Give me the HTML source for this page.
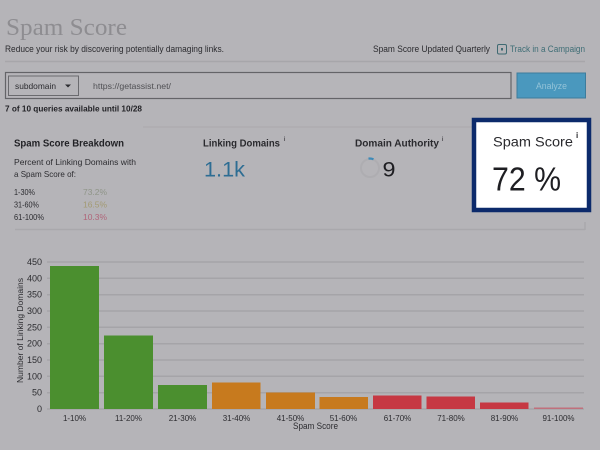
<!DOCTYPE html>
<html><head><meta charset="utf-8"><style>
html,body{margin:0;padding:0;background:#b5b4b8;}
svg{display:block;font-family:"Liberation Sans",sans-serif;}
</style></head><body>
<svg width="600" height="450" viewBox="0 0 600 450" xmlns="http://www.w3.org/2000/svg">
<rect x="0" y="0" width="600" height="450" fill="#b5b4b8"/>
<!-- header -->
<text x="6" y="35" style="font-family:'Liberation Serif',serif" font-size="24" fill="#8e8d91" textLength="121" lengthAdjust="spacingAndGlyphs">Spam Score</text>
<text x="5" y="52" font-size="9" fill="#2c2c30" textLength="219" lengthAdjust="spacingAndGlyphs">Reduce your risk by discovering potentially damaging links.</text>
<text x="373" y="52" font-size="9" fill="#2c2c30" textLength="117" lengthAdjust="spacingAndGlyphs">Spam Score Updated Quarterly</text>
<rect x="497.5" y="44.5" width="9" height="9.5" rx="1.5" fill="none" stroke="#3f6a72" stroke-width="1"/>
<rect x="501" y="48" width="2" height="2.5" fill="#3f6a72"/>
<text x="510" y="52" font-size="9" fill="#3f6e76" textLength="75" lengthAdjust="spacingAndGlyphs">Track in a Campaign</text>
<line x1="5" y1="61.5" x2="585" y2="61.5" stroke="#a7a6aa" stroke-width="1.5"/>
<!-- input -->
<rect x="5.5" y="72.5" width="505.5" height="26" fill="#b6b5b9" stroke="#646468" stroke-width="1.2"/>
<rect x="8.5" y="76" width="70" height="19.5" fill="#b5b4b8" stroke="#6a6a6e" stroke-width="1"/>
<text x="15" y="89" font-size="8.5" fill="#2c2c30" textLength="41" lengthAdjust="spacingAndGlyphs">subdomain</text>
<polygon points="65,84.5 71,84.5 68,87.5" fill="#2c2c30"/>
<text x="93" y="89" font-size="8.5" fill="#505054" textLength="78" lengthAdjust="spacingAndGlyphs">https://getassist.net/</text>
<rect x="517" y="73" width="68.5" height="25" fill="#4a98be" stroke="#3d7c9c" stroke-width="1"/>
<text x="536" y="89" font-size="9" fill="#94c3d8" textLength="31" lengthAdjust="spacingAndGlyphs">Analyze</text>
<text x="5" y="111.5" font-size="8.5" font-weight="bold" fill="#222226" textLength="137" lengthAdjust="spacingAndGlyphs">7 of 10 queries available until 10/28</text>
<line x1="143" y1="127" x2="472" y2="127" stroke="#aaa9ad" stroke-width="1"/>
<!-- breakdown -->
<text x="14" y="146.5" font-size="10.5" font-weight="bold" fill="#222226" textLength="110" lengthAdjust="spacingAndGlyphs">Spam Score Breakdown</text>
<text x="14" y="165" font-size="8.5" fill="#2c2c30" textLength="122" lengthAdjust="spacingAndGlyphs">Percent of Linking Domains with</text>
<text x="14" y="177" font-size="8.5" fill="#2c2c30" textLength="62" lengthAdjust="spacingAndGlyphs">a Spam Score of:</text>
<text x="14" y="195" font-size="8.5" fill="#2c2c30" textLength="21" lengthAdjust="spacingAndGlyphs">1-30%</text>
<text x="83" y="195" font-size="8.5" fill="#8f9588" textLength="24" lengthAdjust="spacingAndGlyphs">73.2%</text>
<text x="14" y="207.5" font-size="8.5" fill="#2c2c30" textLength="25" lengthAdjust="spacingAndGlyphs">31-60%</text>
<text x="83" y="207.5" font-size="8.5" fill="#a39a72" textLength="24" lengthAdjust="spacingAndGlyphs">16.5%</text>
<text x="14" y="220" font-size="8.5" fill="#2c2c30" textLength="30" lengthAdjust="spacingAndGlyphs">61-100%</text>
<text x="83" y="220" font-size="8.5" fill="#b0667a" textLength="24" lengthAdjust="spacingAndGlyphs">10.3%</text>
<!-- linking domains -->
<text x="203" y="146.5" font-size="10.5" font-weight="bold" fill="#2a2a2e" textLength="77" lengthAdjust="spacingAndGlyphs">Linking Domains</text>
<text x="284" y="141" font-size="6.5" fill="#222226">i</text>
<text x="204" y="176.5" font-size="21" fill="#2d6d93" textLength="41" lengthAdjust="spacingAndGlyphs">1.1k</text>
<!-- domain authority -->
<text x="355" y="146.5" font-size="10.5" font-weight="bold" fill="#2a2a2e" textLength="84" lengthAdjust="spacingAndGlyphs">Domain Authority</text>
<text x="442" y="141" font-size="6.5" fill="#222226">i</text>
<circle cx="370" cy="168" r="9" fill="none" stroke="#aeadb1" stroke-width="2"/>
<path d="M368.5 158.6 A9.5 9.5 0 0 1 373.5 159.3" fill="none" stroke="#3d8ab8" stroke-width="2.2"/>
<text x="382.5" y="176.5" font-size="21" fill="#1e1e22" textLength="13" lengthAdjust="spacingAndGlyphs">9</text>
<!-- spam score box -->
<rect x="474" y="120" width="115" height="90" fill="#ffffff" stroke="#0c2a6b" stroke-width="4.5"/>
<text x="493" y="146.5" font-size="14" fill="#2a2a2e" textLength="80" lengthAdjust="spacingAndGlyphs">Spam Score</text>
<text x="576" y="138" font-size="8" font-weight="bold" fill="#2a2a2e">i</text>
<text x="492" y="190.5" font-size="33" fill="#1e1e22" textLength="69" lengthAdjust="spacingAndGlyphs">72 %</text>
<line x1="15" y1="229.5" x2="585" y2="229.5" stroke="#a9a8ac" stroke-width="1.5"/>
<line x1="585" y1="222" x2="585" y2="230" stroke="#a9a8ac" stroke-width="1.5"/>
<!-- chart gridlines -->
<g stroke="#a5a4a8" stroke-width="1.5">
<line x1="47" y1="262" x2="584" y2="262"/>
<line x1="47" y1="278.3" x2="584" y2="278.3"/>
<line x1="47" y1="294.7" x2="584" y2="294.7"/>
<line x1="47" y1="311" x2="584" y2="311"/>
<line x1="47" y1="327.3" x2="584" y2="327.3"/>
<line x1="47" y1="343.7" x2="584" y2="343.7"/>
<line x1="47" y1="360" x2="584" y2="360"/>
<line x1="47" y1="376.3" x2="584" y2="376.3"/>
<line x1="47" y1="392.7" x2="584" y2="392.7"/>
<line x1="47" y1="409" x2="584" y2="409"/>
</g>
<g font-size="9" fill="#2c2c30" text-anchor="end">
<text x="42" y="265">450</text>
<text x="42" y="281.3">400</text>
<text x="42" y="297.7">350</text>
<text x="42" y="314">300</text>
<text x="42" y="330.3">250</text>
<text x="42" y="346.7">200</text>
<text x="42" y="363">150</text>
<text x="42" y="379.3">100</text>
<text x="42" y="395.7">50</text>
<text x="42" y="412">0</text>
</g>
<!-- bars -->
<rect x="50" y="266" width="49" height="143" fill="#4b8f2f"/>
<rect x="104" y="335.5" width="49" height="73.5" fill="#4b8f2f"/>
<rect x="158" y="385" width="49" height="24" fill="#4b8f2f"/>
<rect x="212" y="382.5" width="48.5" height="26.5" fill="#c77a1e"/>
<rect x="266" y="392.5" width="49" height="16.5" fill="#c77a1e"/>
<rect x="319.5" y="397" width="48.5" height="12" fill="#c77a1e"/>
<rect x="373" y="395.5" width="48.5" height="13.5" fill="#c63843"/>
<rect x="426.5" y="396.5" width="48.5" height="12.5" fill="#c63843"/>
<rect x="480" y="402.5" width="48.5" height="6.5" fill="#c63843"/>
<rect x="534" y="407.5" width="49" height="1.5" fill="#c0707c"/>
<!-- x labels -->
<g font-size="8" fill="#2c2c30" text-anchor="middle">
<text x="74.5" y="421">1-10%</text>
<text x="128.5" y="421">11-20%</text>
<text x="182.5" y="421">21-30%</text>
<text x="236.5" y="421">31-40%</text>
<text x="290.5" y="421">41-50%</text>
<text x="343.5" y="421">51-60%</text>
<text x="397.5" y="421">61-70%</text>
<text x="451" y="421">71-80%</text>
<text x="504.5" y="421">81-90%</text>
<text x="558.5" y="421">91-100%</text>
</g>
<text x="293" y="429" font-size="9" fill="#2c2c30" textLength="45" lengthAdjust="spacingAndGlyphs">Spam Score</text>
<text transform="translate(23,383) rotate(-90)" font-size="8.5" fill="#2c2c30" textLength="105" lengthAdjust="spacingAndGlyphs">Number of Linking Domains</text>
</svg>
</body></html>
